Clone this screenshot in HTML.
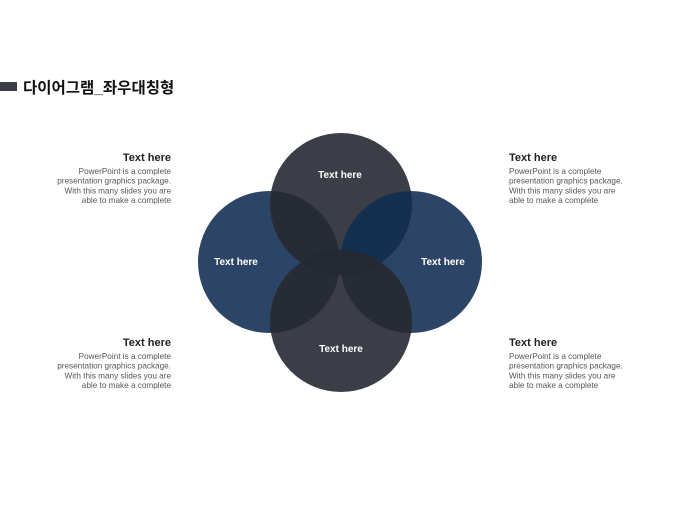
<!DOCTYPE html>
<html><head><meta charset="utf-8"><style>
html,body{margin:0;padding:0;background:#fff;}
body{width:680px;height:510px;overflow:hidden;}
</style></head><body>
<svg width="680" height="510" viewBox="0 0 680 510" xmlns="http://www.w3.org/2000/svg" font-family="'Liberation Sans','Noto Sans CJK KR',sans-serif">
<defs>
<clipPath id="cL"><circle cx="269" cy="262" r="71"/></clipPath>
<clipPath id="cR"><circle cx="411" cy="262" r="71"/></clipPath>
<clipPath id="cT"><circle cx="341" cy="204" r="71"/></clipPath>
<clipPath id="cB"><circle cx="341" cy="321" r="71"/></clipPath>
</defs>
<rect x="0" y="82" width="17" height="9" fill="#3b3e47"/>
<text x="23" y="93" font-size="15.5" font-weight="bold" fill="#111">다이어그램_좌우대칭형</text>

<circle cx="269" cy="262" r="71" fill="#2c4465"/>
<circle cx="411" cy="262" r="71" fill="#2c4465"/>
<circle cx="341" cy="204" r="71" fill="#3b3e47"/>
<circle cx="341" cy="321" r="71" fill="#3b3e47"/>
<g clip-path="url(#cL)"><circle cx="341" cy="204" r="71" fill="#262b36"/></g>
<g clip-path="url(#cR)"><circle cx="341" cy="204" r="71" fill="#15304f"/></g>
<g clip-path="url(#cL)"><circle cx="341" cy="321" r="71" fill="#262b36"/></g>
<g clip-path="url(#cR)"><circle cx="341" cy="321" r="71" fill="#262b36"/></g>
<g clip-path="url(#cT)"><circle cx="341" cy="321" r="71" fill="#262b36"/></g>
<g clip-path="url(#cT)"><g clip-path="url(#cB)"><circle cx="269" cy="262" r="71" fill="#242833"/><circle cx="411" cy="262" r="71" fill="#242833"/></g></g>

<g font-size="10" font-weight="bold" fill="#fff" text-anchor="middle">
<text x="340" y="178">Text here</text>
<text x="236" y="265">Text here</text>
<text x="443" y="265">Text here</text>
<text x="341" y="352">Text here</text>
</g>

<g fill="#222" font-size="11" font-weight="bold">
<text x="171" y="161" text-anchor="end">Text here</text>
<text x="171" y="346" text-anchor="end">Text here</text>
<text x="509" y="161">Text here</text>
<text x="509" y="346">Text here</text>
</g>
<g fill="#555" font-size="8.2">
<g text-anchor="end">
<text x="171" y="174">PowerPoint is a complete</text>
<text x="171" y="183.7">presentation graphics package.</text>
<text x="171" y="193.4">With this many slides you are</text>
<text x="171" y="203">able to make a complete</text>
<text x="171" y="359">PowerPoint is a complete</text>
<text x="171" y="368.7">presentation graphics package.</text>
<text x="171" y="378.4">With this many slides you are</text>
<text x="171" y="388">able to make a complete</text>
</g>
<text x="509" y="174">PowerPoint is a complete</text>
<text x="509" y="183.7">presentation graphics package.</text>
<text x="509" y="193.4">With this many slides you are</text>
<text x="509" y="203">able to make a complete</text>
<text x="509" y="359">PowerPoint is a complete</text>
<text x="509" y="368.7">presentation graphics package.</text>
<text x="509" y="378.4">With this many slides you are</text>
<text x="509" y="388">able to make a complete</text>
</g>
</svg>
</body></html>
